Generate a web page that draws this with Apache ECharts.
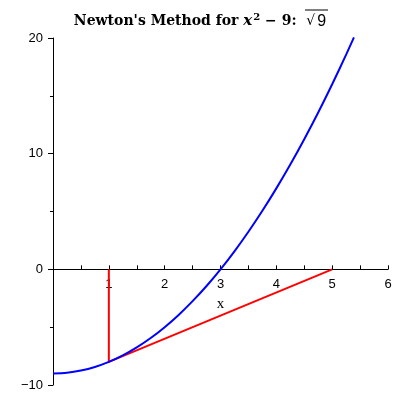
<!DOCTYPE html>
<html>
<head>
<meta charset="utf-8">
<script src="https://cdn.jsdelivr.net/npm/echarts@6/dist/echarts.min.js"></script>
<style>
  html, body { margin: 0; padding: 0; background: #fff; }
  #main { width: 400px; height: 400px; }
</style>
</head>
<body>
<div id="main"></div>
<script>
// curve x^2 - 9
var curveX = [0, 0.25, 0.5, 0.75, 1, 1.25, 1.5, 1.75, 2, 2.25, 2.5, 2.75, 3, 3.25, 3.5, 3.75, 4, 4.25, 4.5, 4.75, 5, 5.25, 5.39];
var curveY = [-9, -8.94, -8.75, -8.44, -8, -7.44, -6.75, -5.94, -5, -3.94, -2.75, -1.44, 0, 1.56, 3.25, 5.06, 7, 9.06, 11.25, 13.56, 16, 18.56, 20.05];
// newton step: up from x=1, along tangent to x=5
var stepX = [1, 1, 5];
var stepY = [0, -8, 0];
var xTicks = [1, 2, 3, 4, 5, 6];
var yTicks = [-10, 0, 10, 20];

var chart = echarts.init(document.getElementById('main'));

function pairs(xs, ys) {
  var out = [];
  for (var i = 0; i < xs.length; i++) out.push([xs[i], ys[i]]);
  return out;
}

var gridTop = 38, gridBottom = 15;
// x axis sits on y=0, one third of the way up from the bottom (-10..20)
var zeroOffset = -(400 - gridTop - gridBottom) / 3;

chart.setOption({
  animation: false,
  title: {
    left: 'center',
    top: 7,
    text: "{a|Newton's Method for }{i|x}{s|2}{a| − 9:  }{r|√}{n|9}",
    textStyle: {
      fontWeight: 'bold',
      rich: {
        a: { fontFamily: 'DejaVu Serif', fontSize: 14, fontWeight: 'bold', color: '#000' },
        i: { fontFamily: 'DejaVu Serif', fontSize: 15, fontStyle: 'italic', fontWeight: 'bold', color: '#000' },
        s: { fontFamily: 'DejaVu Serif', fontSize: 10, fontWeight: 'bold', color: '#000', padding: [0, 0, 9, 1] },
        r: { fontFamily: 'DejaVu Sans', fontSize: 14, fontWeight: 'normal', color: '#000' },
        n: { fontFamily: 'Liberation Sans', fontSize: 16, fontWeight: 'normal', color: '#000', padding: [0, 0, 0, 2] }
      }
    }
  },
  graphic: [{
    type: 'line',
    shape: { x1: 305, y1: 10, x2: 328, y2: 10 },
    style: { stroke: '#000', lineWidth: 1 }
  }],
  grid: { left: 53, right: 12, top: gridTop, bottom: gridBottom, containLabel: false, outerBoundsMode: 'none' },
  xAxis: {
    type: 'value',
    min: 0, max: 6, interval: 1,
    offset: zeroOffset,
    name: 'x',
    nameLocation: 'middle',
    nameGap: 24,
    nameTextStyle: { fontFamily: 'Liberation Serif', fontSize: 15, color: '#000' },
    axisLine: { onZero: false, lineStyle: { color: '#000', width: 1 } },
    axisTick: { inside: true, length: 4, lineStyle: { color: '#000' } },
    minorTick: { show: true, splitNumber: 2, length: 4, lineStyle: { color: '#000' } },
    splitLine: { show: false },
    axisLabel: {
      margin: 9,
      fontFamily: 'Liberation Sans', fontSize: 13, color: '#000',
      formatter: function (v) { return xTicks.indexOf(v) >= 0 ? String(v) : ''; }
    }
  },
  yAxis: {
    type: 'value',
    min: -10, max: 20, interval: 10,
    axisLine: { show: true, onZero: false, lineStyle: { color: '#000', width: 1 } },
    axisTick: { show: true, length: 5, lineStyle: { color: '#000' } },
    minorTick: { show: true, splitNumber: 2, length: 3, lineStyle: { color: '#000' } },
    splitLine: { show: false },
    axisLabel: {
      margin: 10,
      fontFamily: 'Liberation Sans', fontSize: 13, color: '#000',
      formatter: function (v) { return yTicks.indexOf(v) >= 0 ? String(v).replace('-', '−') : ''; }
    }
  },
  series: [{
    type: 'line',
    data: pairs(curveX, curveY),
    showSymbol: false,
    smooth: 0.3,
    lineStyle: { color: '#0000ff', width: 2 },
    z: 3
  }, {
    type: 'line',
    data: pairs(stepX, stepY),
    showSymbol: false,
    lineStyle: { color: '#ff0000', width: 2 },
    z: 2
  }]
});
</script>
</body>
</html>
